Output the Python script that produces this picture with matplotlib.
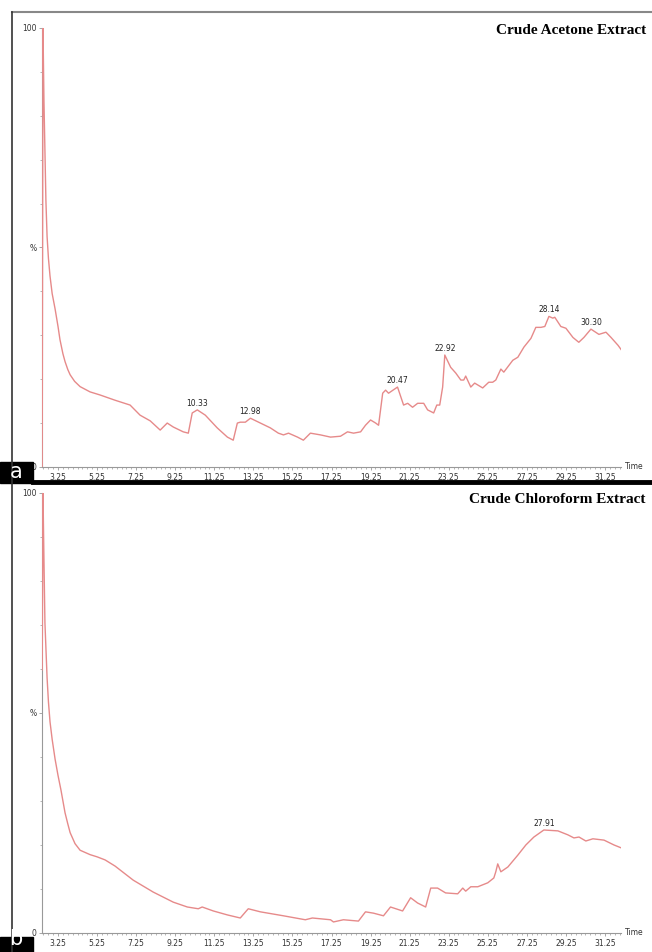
import matplotlib
matplotlib.use('Agg')
import matplotlib.pyplot as plt
from matplotlib.lines import Line2D
from matplotlib.patches import Rectangle
from matplotlib.ticker import MultipleLocator
import numpy as np

# chromatogram a - crude acetone extract (time in min, relative abundance %)
acetone_time = [2.44, 2.48, 2.53, 2.58, 2.63, 2.69, 2.76, 2.84, 2.95, 3.10, 3.25, 3.35, 3.50, 3.61,
                3.75, 3.87, 4.10, 4.38, 4.89, 5.40,
                6.17, 6.94, 7.45, 7.97, 8.48, 8.84, 9.15, 9.66, 9.92, 10.12, 10.38, 10.79, 11.40,
                11.92, 12.22, 12.43, 12.58, 12.84, 13.10, 13.61, 14.12, 14.53, 14.79, 15.05, 15.51,
                15.81, 16.17, 16.69, 17.20, 17.71, 18.07, 18.38, 18.74, 18.99, 19.25, 19.51, 19.66,
                19.87, 20.02, 20.17, 20.63, 20.94, 21.15, 21.40, 21.66, 21.97, 22.17, 22.48, 22.64,
                22.79, 22.94, 23.05, 23.35, 23.61, 23.87, 24.02, 24.12, 24.38, 24.58, 24.99, 25.30,
                25.50, 25.66, 25.92, 26.07, 26.53, 26.79, 27.10, 27.46, 27.71, 27.97, 28.17, 28.38,
                28.58, 28.68, 28.99, 29.25, 29.61, 29.91, 30.17, 30.53, 30.94, 31.30, 31.56, 31.92,
                32.10]
acetone_pct = [0, 100, 83.4, 72.0, 60.7, 52.5, 47.5, 43.5, 39.5, 36.0, 32.0, 29.0, 25.8, 24.0,
               22.2, 21.0, 19.5, 18.3, 17.1, 16.4,
               15.2, 14.1, 11.8, 10.5, 8.4, 10.0, 9.1, 8.0, 7.7, 12.3, 13.0, 11.8, 8.9,
               6.8, 6.1, 10.0, 10.2, 10.2, 11.1, 10.0, 8.9, 7.7, 7.3, 7.7, 6.8,
               6.1, 7.7, 7.3, 6.8, 7.0, 8.0, 7.7, 8.0, 9.5, 10.7, 10.0, 9.5,
               16.8, 17.5, 16.8, 18.2, 14.1, 14.5, 13.6, 14.5, 14.5, 13.0, 12.3, 14.1,
               14.1, 18.2, 25.5, 22.7, 21.4, 19.8, 19.8, 20.7, 18.2, 19.1, 18.0, 19.3,
               19.3, 19.8, 22.3, 21.6, 24.3, 25.0, 27.3, 29.3, 31.8, 31.8, 32.0, 34.3,
               33.9, 34.1, 32.0, 31.6, 29.5, 28.4, 29.5, 31.4, 30.2, 30.7, 29.5, 27.7,
               26.6]
acetone_peaks = [10.33, 12.98, 20.47, 22.92, 28.14, 30.30]

# chromatogram b - crude chloroform extract
chloro_time = [2.44, 2.48, 2.53, 2.58, 2.69, 2.76, 2.84, 2.95, 3.10, 3.25, 3.40, 3.61, 3.75, 3.87,
               4.12, 4.38, 4.89, 5.25,
               5.66, 6.17, 7.10, 8.12, 9.15, 9.87, 10.43, 10.63, 11.20, 11.92, 12.58, 12.89,
               12.99, 13.61, 14.79, 15.91, 16.27, 17.20, 17.35, 17.86, 18.63, 18.99, 19.40,
               19.91, 20.27, 20.89, 21.30, 21.66, 22.07, 22.33, 22.68, 23.09, 23.71, 23.97,
               24.12, 24.38, 24.74, 25.25, 25.56, 25.66, 25.76, 25.92, 26.28, 26.79, 27.20,
               27.61, 28.12, 28.84, 29.35, 29.66, 29.92, 30.27, 30.63, 31.20, 31.71, 32.10]
chloro_pct = [59.8, 100, 84.8, 70.5, 58.0, 52.5, 48.0, 44.0, 39.5, 35.8, 32.5, 27.3, 24.8, 22.8,
              20.3, 18.8, 17.8, 17.3,
              16.6, 15.2, 12.0, 9.3, 7.0, 5.9, 5.5, 5.9, 5.0, 4.1, 3.4, 5.0,
              5.5, 4.8, 3.9, 3.0, 3.4, 3.0, 2.5, 3.0, 2.7, 4.8, 4.5,
              3.9, 5.9, 5.0, 8.0, 6.8, 5.9, 10.2, 10.2, 9.1, 8.9, 10.2,
              9.5, 10.5, 10.5, 11.4, 12.5, 13.9, 15.7, 13.9, 15.0, 17.7, 20.0,
              21.8, 23.4, 23.2, 22.3, 21.6, 21.8, 20.9, 21.4, 21.1, 20.0, 19.3]
chloro_peaks = [27.91]

titles = ['Crude Acetone Extract', 'Crude Chloroform Extract']
title_y = [0.995, 0.985]
xticks = np.arange(3.25, 31.26, 2.0)

fig = plt.figure(figsize=(6.52, 9.52), dpi=100)

# outer frame like the original figure
fig.add_artist(Line2D([12/652, 1], [1-12/952, 1-12/952], color='#888888', lw=1.5))
fig.add_artist(Line2D([12/652, 12/652], [0, 1-12/952], color='#333333', lw=1.2))
fig.add_artist(Line2D([33/652, 1], [1-482/952, 1-482/952], color='black', lw=3.5))

boxes = [(0.5095, 0.4611), (0.0200, 0.4622)]
series = [(acetone_time, acetone_pct, acetone_peaks), (chloro_time, chloro_pct, chloro_peaks)]

for k in range(2):
    t, p, peaks = series[k]
    ax = fig.add_axes([42/652, boxes[k][0], 579/652, boxes[k][1]])
    ax.plot(t, p, color='#e68a8a', lw=1.0, solid_joinstyle='round')
    ax.set_xlim(2.43, 32.07)
    ax.set_ylim(0, 100)
    for s in ['top', 'right']:
        ax.spines[s].set_visible(False)
    for s in ['left', 'bottom']:
        ax.spines[s].set_color('#999999')
        ax.spines[s].set_linewidth(0.8)
    ax.spines['left'].set_zorder(0)
    ax.set_xticks(xticks)
    ax.set_xticklabels(['%.2f' % v for v in xticks])
    ax.xaxis.set_minor_locator(MultipleLocator(0.25))
    ax.set_yticks([0, 50, 100])
    ax.set_yticklabels(['0', '%', '100'])
    ax.yaxis.set_minor_locator(MultipleLocator(10))
    ax.tick_params(axis='both', which='major', labelsize=5.5, length=2.5, width=0.6,
                   color='#999999', labelcolor='#333333', pad=1.5)
    ax.tick_params(axis='both', which='minor', length=1.5, width=0.5, color='#999999')
    ax.text(1.006, 0.0, 'Time', transform=ax.transAxes, fontsize=5.5, color='#333333',
            ha='left', va='center')
    ax.text(1.043, title_y[k], titles[k], transform=ax.transAxes, fontsize=11,
            family='Liberation Serif', weight='bold', ha='right', va='center')
    tt = np.array(t)
    pp = np.array(p)
    for pk in peaks:
        m = np.abs(tt - pk) < 0.3
        i = np.argmax(np.where(m, pp, -1))
        ax.annotate('%.2f' % pk, (tt[i], pp[i]), xytext=(0, 1.5), textcoords='offset points',
                    fontsize=5.5, color='#222222', ha='center', va='bottom')

# panel letters in black boxes
fig.add_artist(Rectangle((0, 1-483/952), 33/652, 21/952, color='black'))
fig.text(16/652, 1-472/952, 'a', color='white', fontsize=15, ha='center', va='center')
fig.add_artist(Rectangle((0, 0), 33/652, 15/952, color='black'))
fig.text(16/652, 3/952, 'b', color='white', fontsize=15, ha='center', va='bottom')

fig.savefig('out.png', dpi=100)
